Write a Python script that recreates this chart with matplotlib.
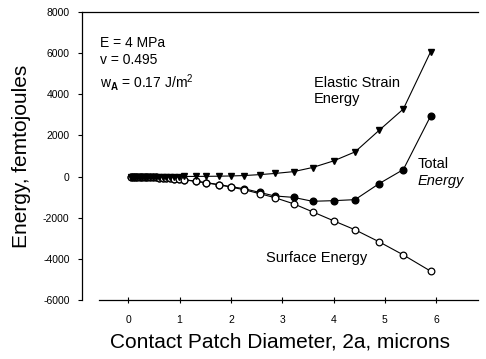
import numpy as np
import matplotlib.pyplot as plt
from matplotlib.ticker import FuncFormatter

plt.rcParams["font.family"] = ["Liberation Sans", "DejaVu Sans"]
plt.rcParams["mathtext.fontset"] = "custom"
plt.rcParams["mathtext.rm"] = "Liberation Sans"
plt.rcParams["mathtext.bf"] = "Liberation Sans:bold"

# =========================
# Data
# =========================
diameter = [0.05, 0.09, 0.13, 0.17, 0.22, 0.27, 0.32, 0.37, 0.42, 0.48,
            0.54, 0.60, 0.67, 0.74, 0.82, 0.90, 0.98, 1.09, 1.31, 1.52,
            1.76, 2.00, 2.26, 2.56, 2.85, 3.22, 3.59, 4.00, 4.42, 4.89,
            5.36, 5.89]

elastic = [0, 0, 0, 0, 0, 0, 0, 0, 0, 0,
           0, 1, 1, 1, 2, 2, 3, 5, 8, 12,
           18, 30, 50, 95, 150, 240, 440, 760, 1200, 2250,
           3280, 6050]

surface = [0, -1, -2, -4, -6, -10, -14, -18, -24, -31,
           -39, -48, -60, -73, -90, -109, -129, -159, -229, -308,
           -400, -510, -640, -830, -1020, -1320, -1710, -2146, -2585, -3170,
           -3805, -4590]

total = [0, -1, -2, -4, -6, -10, -14, -18, -24, -31,
         -39, -47, -59, -72, -88, -107, -126, -154, -221, -296,
         -385, -490, -590, -770, -940, -1010, -1200, -1170, -1120, -340,
         340, 2930]

xticks = [0, 1, 2, 3, 4, 5, 6]
yticks = [-6000, -4000, -2000, 0, 2000, 4000, 6000, 8000]

# =========================
# Plot
# =========================
fig = plt.figure(figsize=(4.86, 3.59), dpi=100)
ax = fig.add_axes([0.169, 0.164, 0.815, 0.803])

line_kw = dict(color="black", linewidth=0.8, markersize=4.8)
ax.plot(diameter, total, marker="o", markerfacecolor="black", zorder=2, **line_kw)
ax.plot(diameter, surface, marker="o", markerfacecolor="white",
        markeredgewidth=0.9, zorder=3, **line_kw)
ax.plot(diameter, elastic, marker="v", markerfacecolor="black", zorder=4, **line_kw)

ax.set_xlim(-0.9, 6.82)
ax.set_ylim(-6000, 8000)
ax.set_xticks(xticks)
ax.set_yticks(yticks)
ax.yaxis.set_major_formatter(FuncFormatter(lambda v, p: f"{int(v)}"))

ax.spines["right"].set_visible(False)
ax.spines["bottom"].set_bounds(-0.58, 6.82)
for s in ["left", "top", "bottom"]:
    ax.spines[s].set_linewidth(0.9)

ax.tick_params(axis="y", direction="out", length=3, width=0.8, labelsize=7.5, pad=6)
ax.tick_params(axis="x", direction="inout", length=4, width=0.8, labelsize=7.5, pad=9)

ax.set_xlabel("Contact Patch Diameter, 2a, microns", fontsize=15, labelpad=5)
ax.set_ylabel("Energy, femtojoules", fontsize=15, labelpad=9)

# parameter block
ax.text(-0.55, 6270, "E = 4 MPa", fontsize=10, va="baseline")
ax.text(-0.55, 5445, "v = 0.495", fontsize=10, va="baseline")
ax.text(-0.55, 4330, r"w$_\mathbf{A}$ = 0.17 J/m$^2$", fontsize=10, va="baseline")

# curve labels
ax.text(3.61, 4330, "Elastic Strain", fontsize=10.5, va="baseline")
ax.text(3.61, 3550, "Energy", fontsize=10.5, va="baseline")
ax.text(5.63, 440, "Total", fontsize=10.5, va="baseline")
ax.text(5.63, -390, "Energy", fontsize=10.5, va="baseline", style="italic")
ax.text(2.69, -4130, "Surface Energy", fontsize=10.5, va="baseline")

fig.savefig("out.png", dpi=100)
